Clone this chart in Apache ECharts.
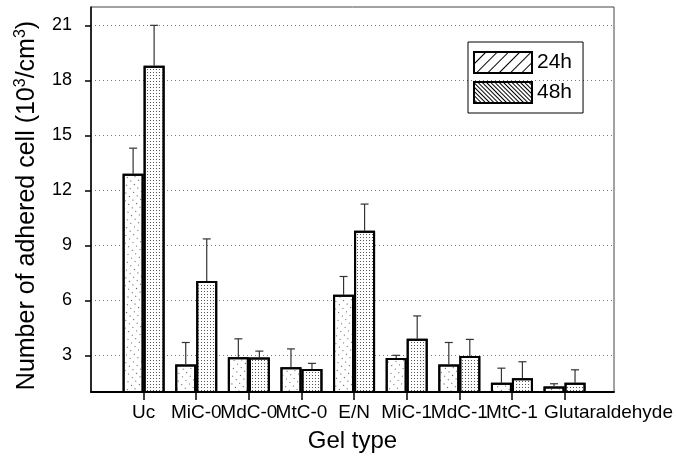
<!DOCTYPE html>
<html>
<head>
<meta charset="utf-8">
<script src="https://cdn.jsdelivr.net/npm/echarts@6/dist/echarts.min.js"></script>
<style>
  html, body { margin: 0; padding: 0; background: #fff; }
  #chart { width: 676px; height: 461px; }
</style>
</head>
<body>
<div id="chart"></div>
<script>
  // gel types and their slot on the x axis
  var categories = ['Uc', 'MiC-0', 'MdC-0', 'MtC-0', 'E/N', 'MiC-1', 'MdC-1', 'MtC-1', 'Glutaraldehyde'];
  var positions = [1, 2, 3, 4, 5, 6, 7, 8, 9];

  // adhered cells (10^3/cm^3) and upper error
  var h24 = [12.9, 2.5, 2.9, 2.35, 6.3, 2.85, 2.5, 1.5, 1.3];
  var err24 = [1.4, 1.2, 1.0, 1.0, 1.0, 0.15, 1.2, 0.8, 0.15];
  var h48 = [18.8, 7.05, 2.88, 2.26, 9.8, 3.9, 2.97, 1.75, 1.51];
  var err48 = [2.2, 2.3, 0.35, 0.3, 1.45, 1.25, 0.9, 0.9, 0.7];

  var yTicks = [3, 6, 9, 12, 15, 18, 21];

  var FONT = '"Liberation Sans", Arial, sans-serif';
  var BAR_W = 21;
  var X_MAX = 9.94;

  var chart = echarts.init(document.getElementById('chart'));

  function barSeries(name, values, decal) {
    return {
      name: name,
      type: 'bar',
      barWidth: BAR_W,
      barGap: '0%',
      data: positions.map(function (p, i) { return [p, values[i]]; }),
      itemStyle: {
        color: '#fff',
        borderColor: '#000',
        borderWidth: 2,
        decal: decal
      },
      z: 2
    };
  }

  function errorSeries(values, errs, side) {
    return {
      type: 'custom',
      data: positions.map(function (p, i) { return [p, values[i], values[i] + errs[i]]; }),
      encode: { x: 0, y: [1, 2] },
      z: 3,
      renderItem: function (params, api) {
        var base = api.coord([api.value(0), api.value(1)]);
        var top = api.coord([api.value(0), api.value(2)]);
        var x = base[0] + side * BAR_W / 2;
        var st = { stroke: '#333', lineWidth: 1.2 };
        return {
          type: 'group',
          children: [
            { type: 'line', shape: { x1: x, y1: base[1], x2: x, y2: top[1] }, style: st },
            { type: 'line', shape: { x1: x - 4, y1: top[1], x2: x + 4, y2: top[1] }, style: st }
          ]
        };
      }
    };
  }

  var dots24 = { symbol: 'rect', symbolSize: 1, color: '#555', dashArrayX: [1, 5], dashArrayY: [1, 4], rotation: -Math.PI / 4 };
  var dots48 = { symbol: 'rect', symbolSize: 1, color: '#555', dashArrayX: [1, 2], dashArrayY: [1, 2], rotation: 0 };
  var hatch24 = { symbol: 'rect', symbolSize: 1, color: '#000', dashArrayX: [1, 0], dashArrayY: [1, 7], rotation: -Math.PI / 4 };
  var hatch48 = { symbol: 'rect', symbolSize: 1, color: '#000', dashArrayX: [1, 0], dashArrayY: [1, 2], rotation: Math.PI / 4 };

  var xLabelFont = { fontSize: 19, color: '#000', fontFamily: FONT };

  // labels overlap a little in the original, so they are spread over
  // label-only axes (echarts would hide overlapping labels on one axis)
  function labelAxis(values, rich) {
    return {
      type: 'value',
      position: 'bottom',
      min: 0,
      max: X_MAX,
      axisLine: { show: false },
      axisTick: { show: false },
      splitLine: { show: false },
      axisLabel: Object.assign({
        customValues: values,
        showMinLabel: true,
        showMaxLabel: true,
        hideOverlap: false,
        margin: 11,
        formatter: function (v) {
          var t = categories[Math.round(v) - 1] || '';
          return rich ? '{g|' + t + '}' : t;
        },
        rich: rich
      }, xLabelFont)
    };
  }

  var option = {
    animation: false,
    backgroundColor: '#fff',
    textStyle: { fontFamily: FONT, color: '#000' },
    grid: {
      left: 91, right: 62, top: 7, bottom: 69,
      show: true, borderColor: '#444', borderWidth: 1,
      containLabel: false,
      outerBoundsMode: 'none'
    },
    legend: {
      orient: 'vertical',
      left: 468,
      top: 42,
      padding: [9, 11, 9, 5],
      itemWidth: 58,
      itemHeight: 21,
      itemGap: 7,
      icon: 'rect',
      borderColor: '#000',
      borderWidth: 1,
      textStyle: { fontSize: 21, color: '#000', fontFamily: FONT },
      data: [
        { name: '24h', itemStyle: { decal: hatch24 } },
        { name: '48h', itemStyle: { decal: hatch48 } }
      ]
    },
    xAxis: [
      {
        type: 'value',
        min: 0,
        max: X_MAX,
        name: 'Gel type',
        nameLocation: 'middle',
        nameGap: 37,
        nameTextStyle: { fontSize: 24, color: '#000', fontFamily: FONT },
        axisLine: { lineStyle: { color: '#000', width: 2 } },
        axisTick: { customValues: positions, length: 8, lineStyle: { color: '#000', width: 1.5 } },
        axisLabel: Object.assign({
          customValues: positions.filter(function (p) { return p % 2 === 1 && p < 9; }),
          showMinLabel: true,
          showMaxLabel: true,
          hideOverlap: false,
          margin: 11,
          formatter: function (v) { return categories[Math.round(v) - 1] || ''; }
        }, xLabelFont),
        splitLine: { show: false }
      },
      labelAxis(positions.filter(function (p) { return p % 2 === 0; }), null),
      labelAxis([positions[positions.length - 1]], { g: Object.assign({ padding: [0, 0, 0, 88] }, xLabelFont) })
    ],
    yAxis: {
      type: 'value',
      min: 1,
      max: 22,
      name: '{n|Number of adhered cell (10}{s|3}{n|/cm}{s|3}{n|)}',
      nameLocation: 'middle',
      nameGap: 49,
      nameTextStyle: {
        padding: [0, 12, 0, 0],
        rich: {
          n: { fontSize: 25, color: '#000', fontFamily: FONT, lineHeight: 29 },
          s: { fontSize: 16, color: '#000', fontFamily: FONT, verticalAlign: 'top', lineHeight: 29 }
        }
      },
      axisLine: { lineStyle: { color: '#000', width: 1.5 } },
      axisTick: { customValues: yTicks, length: 6, lineStyle: { color: '#000', width: 1.5 } },
      axisLabel: {
        customValues: yTicks,
        showMinLabel: true,
        showMaxLabel: true,
        fontSize: 18,
        margin: 19,
        color: '#000',
        fontFamily: FONT
      },
      splitLine: { show: true, lineStyle: { color: '#777', width: 1, type: [1, 3] } }
    },
    series: [
      barSeries('24h', h24, dots24),
      barSeries('48h', h48, dots48),
      errorSeries(h24, err24, -1),
      errorSeries(h48, err48, 1)
    ]
  };

  chart.setOption(option);
</script>
</body>
</html>
